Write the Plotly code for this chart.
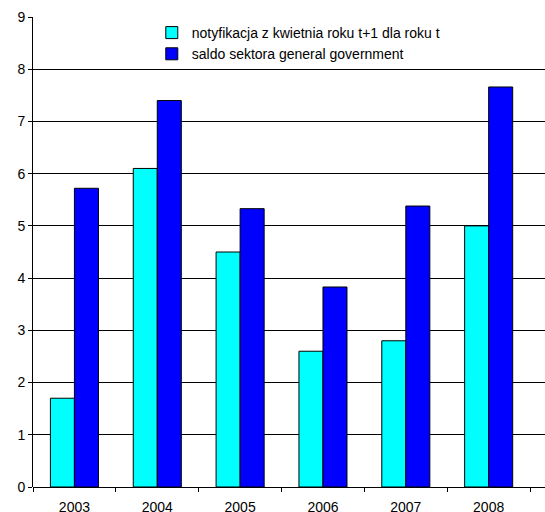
import plotly.graph_objects as go

years = ["2003", "2004", "2005", "2006", "2007", "2008"]
notyfikacja = [1.7, 6.1, 4.5, 2.6, 2.8, 5.0]
saldo = [5.72, 7.4, 5.33, 3.83, 5.38, 7.66]
y_ticks = [0, 1, 2, 3, 4, 5, 6, 7, 8, 9]

fig = go.Figure()
fig.add_trace(go.Bar(
    x=years, y=notyfikacja,
    name="notyfikacja z kwietnia roku t+1 dla roku t",
    marker=dict(color="#00FFFF", line=dict(color="black", width=1)),
))
fig.add_trace(go.Bar(
    x=years, y=saldo,
    name="saldo sektora general government",
    marker=dict(color="#0000FF", line=dict(color="black", width=1)),
))

fig.update_layout(
    width=545, height=512,
    margin=dict(l=33, r=0, t=17, b=25),
    paper_bgcolor="white", plot_bgcolor="white",
    barmode="group", bargap=0.42, bargroupgap=0,
    font=dict(family="Liberation Sans, Arial, sans-serif", size=14, color="black"),
    showlegend=True,
    legend=dict(
        x=0.232, y=1.0, xanchor="left", yanchor="top",
        bgcolor="rgba(0,0,0,0)", borderwidth=0,
        font=dict(size=14), tracegroupgap=0,
    ),
    xaxis=dict(
        type="category", range=[-0.5, 5.68], automargin=False,
        showline=False, showgrid=False, zeroline=False,
        tickson="boundaries", ticks="outside", ticklen=4,
        tickcolor="black", tickfont=dict(size=14),
        ticklabelstandoff=10,
    ),
    yaxis=dict(
        range=[0, 9], tickvals=y_ticks, automargin=False,
        showline=True, linecolor="black", linewidth=1,
        showgrid=True, gridcolor="black", gridwidth=1,
        zeroline=True, zerolinecolor="black", zerolinewidth=1,
        ticks="outside", ticklen=4, tickcolor="black",
        tickfont=dict(size=14),
    ),
)

fig.write_html("out.html")
